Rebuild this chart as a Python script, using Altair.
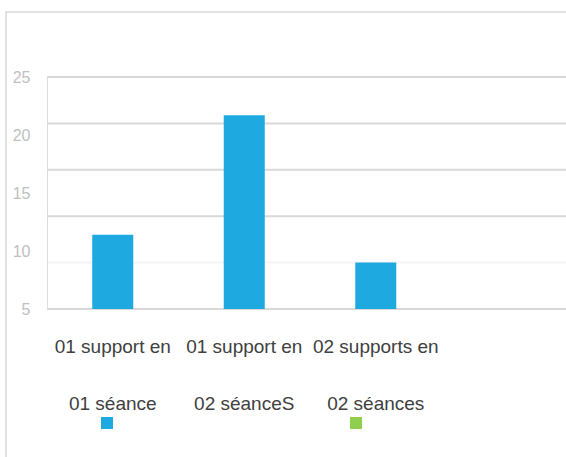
import altair as alt
import pandas as pd

# data
categories = ["01 support en|01 séance", "01 support en|02 séanceS", "02 supports en|02 séances"]
values = [11.4, 21.7, 9.0]
series_names = ["Série 1", "Série 2"]
series_colors = ["#1EA9E0", "#8FCE4F"]
y_labels = [5, 10, 15, 20, 25]
grid_values = [5, 9, 13, 17, 21, 25]
grid_opacity = [1, 0.3, 1, 1, 1, 1]

W, H = 519, 232
FONT = "Liberation Sans Narrow, Liberation Sans, sans-serif"

bars_df = pd.DataFrame({"cat": categories, "val": values, "series": [series_names[0]] * 3})
grid_df = pd.DataFrame({"g": grid_values, "op": grid_opacity})

xscale = alt.Scale(domain=categories, range=[0, 394.5], paddingInner=0.688, paddingOuter=0.344)
yscale = alt.Scale(domain=[5, 25], zero=False, nice=False)
yaxis = alt.Axis(title=None, values=y_labels, grid=False, ticks=False, domain=False,
                 labelFont=FONT, labelFontSize=16, labelColor="#c0c0c0", labelPadding=17)

frame = alt.Chart(pd.DataFrame({"a": [0]})).mark_rect(
    fill="transparent", stroke="#d9d9d9", strokeWidth=1.5
).encode(
    x=alt.value(-41), x2=alt.value(W + 20), y=alt.value(-65), y2=alt.value(H + 200)
)

grid = alt.Chart(grid_df).mark_rule(color="#d9d9d9", strokeWidth=2).encode(
    y=alt.Y("g:Q", scale=yscale, axis=yaxis),
    x=alt.value(0), x2=alt.value(W),
    opacity=alt.Opacity("op:Q", scale=None, legend=None),
)

bars = alt.Chart(bars_df).mark_bar().encode(
    x=alt.X("cat:N", scale=xscale, sort=categories,
            axis=alt.Axis(title=None, ticks=False, domain=False, grid=False,
                          labelExpr="split(datum.value, '|')",
                          labelAngle=0, labelFont=FONT, labelFontSize=19,
                          labelColor="#404040", labelPadding=28, labelLineHeight=57)),
    y=alt.Y("val:Q", scale=yscale, axis=yaxis),
    y2=alt.datum(5),
    color=alt.Color("series:N",
                    scale=alt.Scale(domain=series_names, range=series_colors),
                    legend=alt.Legend(title=None, orient="none", direction="horizontal",
                                      legendX=54, legendY=340, symbolType="square",
                                      symbolSize=144, symbolStrokeWidth=0,
                                      labelExpr="''", labelOffset=0,
                                      columnPadding=237, padding=0)),
)

chart = alt.layer(frame, grid, bars).properties(
    width=W, height=H,
    padding={"left": 47, "top": 77, "right": 0, "bottom": 148},
    autosize=alt.AutoSizeParams(type="none"),
).configure_view(
    strokeWidth=0, strokeOpacity=0
).configure_axis(
    domain=False, grid=False, ticks=False
).configure(background="white")

chart.save("out.html", embed_options={"renderer": "svg", "actions": False})
